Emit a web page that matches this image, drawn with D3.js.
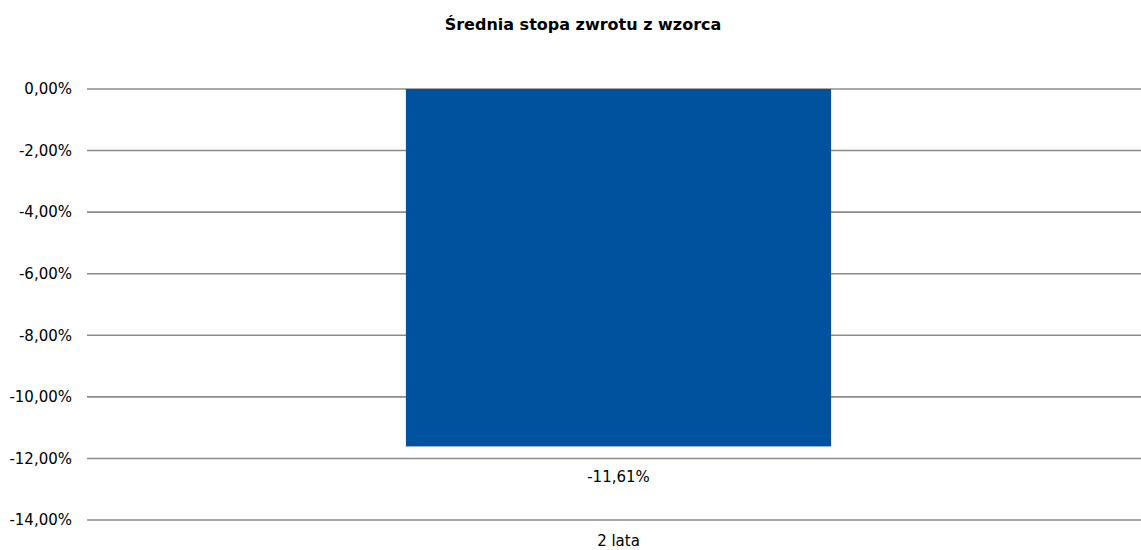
<!DOCTYPE html>
<html><head><meta charset="utf-8">
<script src="https://cdn.jsdelivr.net/npm/d3@7"></script>
<style>body{margin:0;background:#fff}svg{display:block}text{font-family:"DejaVu Sans",Verdana,sans-serif}</style>
</head><body>
<svg id="c" width="1141" height="550"></svg>
<script>
const title = "Średnia stopa zwrotu z wzorca";
const categories = ["2 lata"];
const values = [-11.61];
const valueLabels = ["-11,61%"];
const yTicks = [0, -2, -4, -6, -8, -10, -12, -14];
const yTickLabels = ["0,00%", "-2,00%", "-4,00%", "-6,00%", "-8,00%", "-10,00%", "-12,00%", "-14,00%"];

const svg = d3.select("#c");
const x = d3.scaleBand().domain(categories).range([87, 1150]).paddingInner(0).paddingOuter(0.75);
const y = d3.scaleLinear().domain([-14, 0]).range([520, 89]);

svg.append("text").attr("x", 583).attr("y", 30).attr("text-anchor", "middle")
  .attr("font-size", "16px").attr("font-weight", "bold").attr("fill", "#000").text(title);

const yAxis = d3.axisLeft(y).tickValues(yTicks).tickSize(0).tickPadding(15)
  .tickFormat((d, i) => yTickLabels[i]);
const gy = svg.append("g").attr("transform", "translate(87,0)").call(yAxis);
gy.select(".domain").remove();
gy.selectAll("text").attr("font-size", "15px").attr("fill", "#000")
  .style("font-family", '"DejaVu Sans",Verdana,sans-serif');

svg.append("g").selectAll("line").data(yTicks).join("line")
  .attr("x1", 87).attr("x2", 1141)
  .attr("y1", d => y(d)).attr("y2", d => y(d))
  .attr("stroke", "#8c8c8c").attr("stroke-width", 1.6);

svg.append("g").selectAll("rect").data(values).join("rect")
  .attr("x", (d, i) => x(categories[i]))
  .attr("width", x.bandwidth())
  .attr("y", d => y(Math.max(0, d)))
  .attr("height", d => Math.abs(y(d) - y(0)))
  .attr("fill", "#00519e");

svg.append("g").selectAll("text").data(values).join("text")
  .attr("x", (d, i) => x(categories[i]) + x.bandwidth() / 2)
  .attr("y", d => y(d) + 36)
  .attr("text-anchor", "middle").attr("font-size", "15px").attr("fill", "#000")
  .text((d, i) => valueLabels[i]);

svg.append("g").selectAll("text").data(categories).join("text")
  .attr("x", d => x(d) + x.bandwidth() / 2)
  .attr("y", 546)
  .attr("text-anchor", "middle").attr("font-size", "15px").attr("fill", "#000")
  .text(d => d);
</script>
</body></html>
